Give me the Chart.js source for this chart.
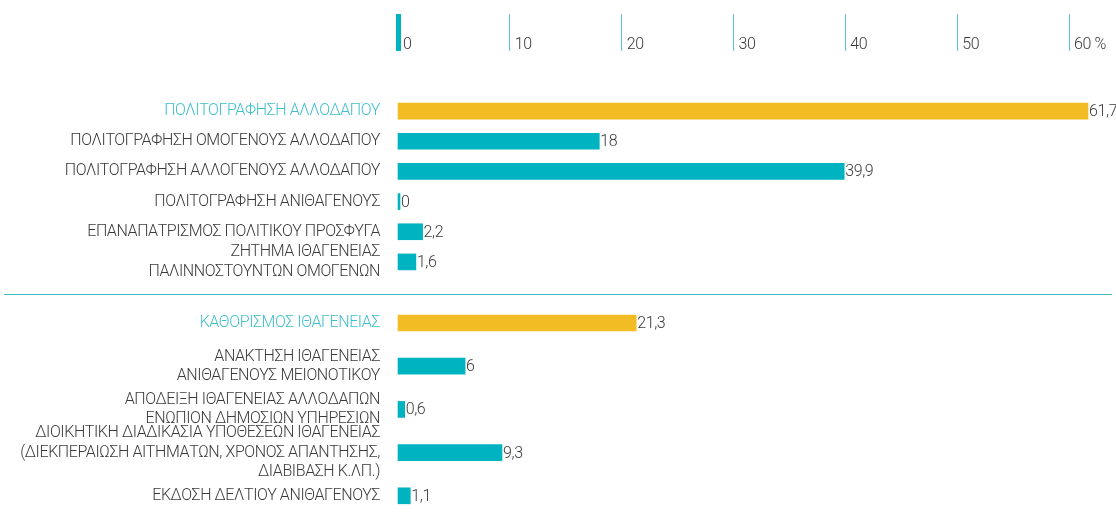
<!DOCTYPE html>
<html>
<head>
<meta charset="utf-8">
<script src="https://cdn.jsdelivr.net/npm/chart.js@4"></script>
<style>
  body { margin: 0; background: #fff; }
  #wrap { position: relative; width: 1116px; height: 529px; overflow: hidden; }
  canvas { position: absolute; left: 0; }
  #axis { top: 0; }
  #grp1 { top: 60px; }
  #grp2 { top: 291px; }
  #sep { position: absolute; left: 4px; width: 1108px; top: 294px; border-top: 1px solid #3fbdc7; }
</style>
</head>
<body>
<div id="wrap">
  <canvas id="axis" width="1116" height="60"></canvas>
  <div id="sep"></div>
  <canvas id="grp1" width="1116" height="232"></canvas>
  <canvas id="grp2" width="1116" height="238"></canvas>
</div>
<script>
// data
var tickLabels = ['0', '10', '20', '30', '40', '50', '60 %'];

var catsTop = [
  'ΠΟΛΙΤΟΓΡΑΦΗΣΗ ΑΛΛΟΔΑΠΟΥ',
  'ΠΟΛΙΤΟΓΡΑΦΗΣΗ ΟΜΟΓΕΝΟΥΣ ΑΛΛΟΔΑΠΟΥ',
  'ΠΟΛΙΤΟΓΡΑΦΗΣΗ ΑΛΛΟΓΕΝΟΥΣ ΑΛΛΟΔΑΠΟΥ',
  'ΠΟΛΙΤΟΓΡΑΦΗΣΗ ΑΝΙΘΑΓΕΝΟΥΣ',
  'ΕΠΑΝΑΠΑΤΡΙΣΜΟΣ ΠΟΛΙΤΙΚΟΥ ΠΡΟΣΦΥΓΑ',
  ['ΖΗΤΗΜΑ ΙΘΑΓΕΝΕΙΑΣ', 'ΠΑΛΙΝΝΟΣΤΟΥΝΤΩΝ ΟΜΟΓΕΝΩΝ']
];
var valsTop = [61.7, 18, 39.9, 0, 2.2, 1.6];

var catsBottom = [
  'ΚΑΘΟΡΙΣΜΟΣ ΙΘΑΓΕΝΕΙΑΣ',
  ['ΑΝΑΚΤΗΣΗ ΙΘΑΓΕΝΕΙΑΣ', 'ΑΝΙΘΑΓΕΝΟΥΣ ΜΕΙΟΝΟΤΙΚΟΥ'],
  ['ΑΠΟΔΕΙΞΗ ΙΘΑΓΕΝΕΙΑΣ ΑΛΛΟΔΑΠΩΝ', 'ΕΝΩΠΙΟΝ ΔΗΜΟΣΙΩΝ ΥΠΗΡΕΣΙΩΝ'],
  ['ΔΙΟΙΚΗΤΙΚΗ ΔΙΑΔΙΚΑΣΙΑ ΥΠΟΘΕΣΕΩΝ ΙΘΑΓΕΝΕΙΑΣ', '(ΔΙΕΚΠΕΡΑΙΩΣΗ ΑΙΤΗΜΑΤΩΝ, ΧΡΟΝΟΣ ΑΠΑΝΤΗΣΗΣ,', 'ΔΙΑΒΙΒΑΣΗ Κ.ΛΠ.)'],
  'ΕΚΔΟΣΗ ΔΕΛΤΙΟΥ ΑΝΙΘΑΓΕΝΟΥΣ'
];
var valsBottom = [21.3, 6, 0.6, 9.3, 1.1];

// style
var FONT = "Roboto, 'Noto Sans', sans-serif";
var TEAL = '#00b3c1';
var YELLOW = '#f2bc25';
var TEXT = '#3a3a3a';
var LABEL_HI = '#3fbfca';

Chart.defaults.font.family = FONT;
Chart.defaults.font.size = 16;
Chart.defaults.font.weight = 300;
Chart.defaults.font.lineHeight = 1.2;
Chart.defaults.color = TEXT;

// the original uses a condensed face, tighten letters a bit
Chart.register({
  id: 'condense',
  beforeDraw: function (chart) { chart.ctx.letterSpacing = '-0.4px'; }
});

// value labels right of each bar
var valueLabels = {
  id: 'valueLabels',
  afterDatasetsDraw: function (chart) {
    var ctx = chart.ctx;
    var meta = chart.getDatasetMeta(0);
    var data = chart.data.datasets[0].data;
    ctx.save();
    ctx.font = '300 16px ' + FONT;
    ctx.fillStyle = TEXT;
    ctx.textBaseline = 'middle';
    meta.data.forEach(function (bar, i) {
      ctx.fillText(String(data[i]).replace('.', ','), bar.x + 1, bar.y + 1);
    });
    ctx.restore();
  }
};

// top axis only
new Chart(document.getElementById('axis'), {
  type: 'bar',
  data: { labels: [], datasets: [] },
  options: {
    responsive: false,
    animation: false,
    indexAxis: 'y',
    layout: { padding: { left: 398, right: 47, top: 0, bottom: 0 } },
    plugins: { legend: { display: false }, tooltip: { enabled: false } },
    scales: {
      x: {
        position: 'top',
        min: 0,
        max: 60,
        afterFit: function (s) { s.height = 51; },
        border: { display: false },
        grid: {
          drawOnChartArea: false,
          tickLength: 37,
          tickWidth: function (c) { return c.tick && c.tick.value === 0 ? 5 : 1; },
          tickColor: function (c) { return c.tick && c.tick.value === 0 ? TEAL : '#5cc6cf'; }
        },
        ticks: {
          stepSize: 10,
          align: 'start',
          labelOffset: 5,
          padding: -41,
          color: TEXT,
          callback: function (v, i) { return tickLabels[i]; }
        }
      },
      y: { display: false }
    }
  }
});

function groupChart(id, cats, vals, padTop, padBottom) {
  return new Chart(document.getElementById(id), {
    type: 'bar',
    data: {
      labels: cats,
      datasets: [{
        data: vals,
        backgroundColor: vals.map(function (v, i) { return i === 0 ? YELLOW : TEAL; }),
        barThickness: 16,
        minBarLength: 2,
        borderWidth: 0,
        clip: false
      }]
    },
    options: {
      responsive: false,
      animation: false,
      indexAxis: 'y',
      layout: { padding: { left: 0, right: 47, top: padTop, bottom: padBottom } },
      plugins: { legend: { display: false }, tooltip: { enabled: false } },
      scales: {
        x: { display: false, min: 0, max: 60 },
        y: {
          afterFit: function (s) { s.width = 398; },
          border: { display: false },
          grid: { drawOnChartArea: false, tickLength: 18, tickColor: 'rgba(0,0,0,0)' },
          ticks: {
            autoSkip: false,
            padding: 0,
            color: function (c) { return c.index === 0 ? LABEL_HI : TEXT; }
          }
        }
      }
    },
    plugins: [valueLabels]
  });
}

groupChart('grp1', catsTop, valsTop, 36, 15);
groupChart('grp2', catsBottom, valsBottom, 10.4, 11.6);
</script>
</body>
</html>
